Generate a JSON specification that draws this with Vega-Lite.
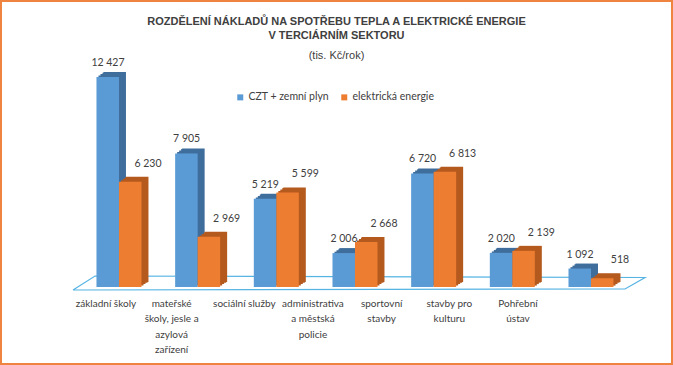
{
  "$schema": "https://vega.github.io/schema/vega-lite/v6.json",
  "width": 671,
  "height": 363,
  "autosize": {"type": "none"},
  "padding": 1,
  "background": "white",
  "config": {
    "view": {"stroke": "#EE8440", "strokeWidth": 2},
    "locale": {"number": {"decimal": ",", "thousands": " ", "grouping": [3], "currency": ["", " Kč"]}}
  },
  "title": {
    "text": ["ROZDĚLENÍ  NÁKLADŮ NA SPOTŘEBU  TEPLA  A ELEKTRICKÉ  ENERGIE", "V TERCIÁRNÍM SEKTORU"],
    "subtitle": "(tis.  Kč/rok)",
    "anchor": "middle",
    "frame": "group",
    "offset": -60,
    "font": "Liberation Sans",
    "fontSize": 11,
    "fontWeight": "bold",
    "color": "#404040",
    "lineHeight": 14,
    "subtitleFont": "Liberation Sans",
    "subtitleFontSize": 11,
    "subtitleColor": "#404040",
    "subtitlePadding": 9
  },
  "datasets": {
    "bars": [
      {"cat": "základní školy", "series": "CZT + zemní plyn", "value": 12427},
      {"cat": "mateřské školy, jesle a azylová zařízení", "series": "CZT + zemní plyn", "value": 7905},
      {"cat": "sociální služby", "series": "CZT + zemní plyn", "value": 5219},
      {"cat": "administrativa a městská policie", "series": "CZT + zemní plyn", "value": 2006},
      {"cat": "sportovní stavby", "series": "CZT + zemní plyn", "value": 6720},
      {"cat": "stavby pro kulturu", "series": "CZT + zemní plyn", "value": 2020},
      {"cat": "Pohřební ústav", "series": "CZT + zemní plyn", "value": 1092},
      {"cat": "základní školy", "series": "elektrická energie", "value": 6230},
      {"cat": "mateřské školy, jesle a azylová zařízení", "series": "elektrická energie", "value": 2969},
      {"cat": "sociální služby", "series": "elektrická energie", "value": 5599},
      {"cat": "administrativa a městská policie", "series": "elektrická energie", "value": 2668},
      {"cat": "sportovní stavby", "series": "elektrická energie", "value": 6813},
      {"cat": "stavby pro kulturu", "series": "elektrická energie", "value": 2139},
      {"cat": "Pohřební ústav", "series": "elektrická energie", "value": 518}
    ],
    "floor": [
      {"i": 0, "fx": 0.1073, "fy": -177},
      {"i": 1, "fx": 0.1401, "fy": 651},
      {"i": 2, "fx": 0.9598, "fy": 562},
      {"i": 3, "fx": 0.930, "fy": -118},
      {"i": 4, "fx": 0.1073, "fy": -177}
    ]
  },
  "resolve": {"scale": {"x": "independent"}},
  "layer": [
    {
      "data": {"name": "floor"},
      "mark": {"type": "line", "color": "#56B4E3", "strokeWidth": 1.2},
      "encoding": {
        "x": {"field": "fx", "type": "quantitative", "scale": {"domain": [0, 1], "nice": false, "zero": false}, "axis": null},
        "y": {"field": "fy", "type": "quantitative", "scale": {"domain": [-4557, 16924], "nice": false, "zero": false}, "axis": null},
        "order": {"field": "i", "type": "quantitative"}
      }
    },
    {
      "data": {"name": "bars"},
      "resolve": {"scale": {"xOffset": "independent"}},
      "encoding": {
        "x": {
          "field": "cat", "type": "nominal", "sort": null,
          "scale": {"paddingInner": 0.428, "paddingOuter": 0.9787, "align": 0.62},
          "axis": {
            "orient": "bottom", "offset": -70, "title": null, "domain": false, "ticks": false,
            "labelAngle": 0, "labelFont": "Lato", "labelFontSize": 10, "labelColor": "#404040",
            "labelLineHeight": 15.5, "labelPadding": 4, "labelBaseline": "top", "labelLimit": 0,
            "labelExpr": "datum.value == 'mateřské školy, jesle a azylová zařízení' ? ['mateřské','školy, jesle a','azylová','zařízení'] : datum.value == 'administrativa a městská policie' ? ['administrativa','a městská','policie'] : datum.value == 'sportovní stavby' ? ['sportovní','stavby'] : datum.value == 'stavby pro kulturu' ? ['stavby pro','kulturu'] : datum.value == 'Pohřební ústav' ? ['Pohřební','ústav'] : datum.value",
            "labelOffset": {
              "condition": [
                {"test": "datum.value === 'mateřské školy, jesle a azylová zařízení'", "value": -26},
                {"test": "datum.value === 'sociální služby'", "value": -32},
                {"test": "datum.value === 'administrativa a městská policie'", "value": -42},
                {"test": "datum.value === 'sportovní stavby'", "value": -52},
                {"test": "datum.value === 'stavby pro kulturu'", "value": -63},
                {"test": "datum.value === 'Pohřební ústav'", "value": -73}
              ],
              "value": -13
            }
          }
        },
        "y": {"field": "value", "type": "quantitative", "scale": {"domain": [-4557, 16924], "nice": false, "zero": false}, "axis": null}
      },
      "layer": [
        {
          "mark": {"type": "bar", "yOffset": -5},
          "encoding": {
            "xOffset": {"field": "series", "type": "nominal", "sort": null, "scale": {"domain": ["CZT + zemní plyn", "elektrická energie"], "paddingInner": 0, "paddingOuter": 0, "range": [7, 52]}},
            "color": {"condition": {"test": "datum.series === 'CZT + zemní plyn'", "value": "#3F6E9C"}, "value": "#B55A1E"}
          }
        },
        {
          "mark": {"type": "bar", "yOffset": -4.3},
          "encoding": {
            "xOffset": {"field": "series", "type": "nominal", "sort": null, "scale": {"domain": ["CZT + zemní plyn", "elektrická energie"], "paddingInner": 0, "paddingOuter": 0, "range": [6, 51]}},
            "color": {"condition": {"test": "datum.series === 'CZT + zemní plyn'", "value": "#3F6E9C"}, "value": "#B55A1E"}
          }
        },
        {
          "mark": {"type": "bar", "yOffset": -2.9},
          "encoding": {
            "xOffset": {"field": "series", "type": "nominal", "sort": null, "scale": {"domain": ["CZT + zemní plyn", "elektrická energie"], "paddingInner": 0, "paddingOuter": 0, "range": [4, 49]}},
            "color": {"condition": {"test": "datum.series === 'CZT + zemní plyn'", "value": "#3F6E9C"}, "value": "#B55A1E"}
          }
        },
        {
          "mark": {"type": "bar", "yOffset": -1.4},
          "encoding": {
            "xOffset": {"field": "series", "type": "nominal", "sort": null, "scale": {"domain": ["CZT + zemní plyn", "elektrická energie"], "paddingInner": 0, "paddingOuter": 0, "range": [2, 47]}},
            "color": {"condition": {"test": "datum.series === 'CZT + zemní plyn'", "value": "#3F6E9C"}, "value": "#B55A1E"}
          }
        },
        {
          "mark": {"type": "bar"},
          "encoding": {
            "xOffset": {"field": "series", "type": "nominal", "sort": null, "scale": {"domain": ["CZT + zemní plyn", "elektrická energie"], "paddingInner": 0, "paddingOuter": 0}},
            "color": {
              "field": "series", "type": "nominal", "sort": null,
              "scale": {"domain": ["CZT + zemní plyn", "elektrická energie"], "range": ["#5B9BD5", "#ED7D31"]},
              "legend": {
                "orient": "none", "legendX": 234, "legendY": 91, "direction": "horizontal", "title": null,
                "symbolType": "square", "symbolSize": 36, "symbolStrokeWidth": 0,
                "labelFont": "Lato", "labelFontSize": 10.5, "labelColor": "#404040",
                "labelOffset": 3, "columnPadding": 9, "padding": 0
              }
            }
          }
        },
        {
          "mark": {"type": "text", "dx": -11, "dy": -14, "font": "Lato", "fontSize": 10.5, "color": "#404040", "baseline": "middle", "align": "center"},
          "encoding": {"text": {"condition": {"test": "datum.series === 'elektrická energie'", "value": ""}, "field": "value", "type": "quantitative", "format": ",d"}}
        },
        {
          "mark": {"type": "text", "dx": 29, "dy": -18, "font": "Lato", "fontSize": 10.5, "color": "#404040", "baseline": "middle", "align": "center"},
          "encoding": {"text": {"condition": {"test": "datum.series === 'CZT + zemní plyn'", "value": ""}, "field": "value", "type": "quantitative", "format": ",d"}}
        }
      ]
    }
  ]
}
